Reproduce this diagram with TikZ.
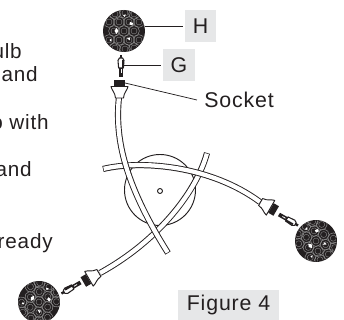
\documentclass[tikz,border=0pt]{standalone}
\usepackage{fontspec}
\setmainfont{Liberation Sans}
\newfontfamily\spaced[LetterSpace=4]{Liberation Sans}
\definecolor{lab}{HTML}{E6E7E8}
\definecolor{ink}{HTML}{231F20}
\tikzset{
 px/.style={x=0.75pt,y=-0.75pt},
 wire/.style={draw=ink,line width=0.7pt,fill=white,line join=round},
 wouter/.style={draw=ink,line width=4.6pt,line cap=butt},
 winner/.style={draw=white,line width=3.2pt,line cap=butt},
 thin line/.style={draw=ink,line width=0.55pt},
 lbl/.style={fill=lab,text=ink,font=\spaced\fontsize{16pt}{18pt}\selectfont,inner sep=0pt,anchor=center},
 txt/.style={text=ink,font=\spaced\fontsize{15.5pt}{18pt}\selectfont,inner sep=0pt,anchor=base east},
 coil/.style={draw=black!45!white,line width=0.4pt},
}
\newcommand{\mybulb}[2]{%
 \begin{scope}[shift={(#1)},rotate=#2]
  \fill[ink] (0,0) circle (21);
  \begin{scope}
  \clip (0,0) circle (20.5);
  \foreach \a/\b in {0/0,-10/0,10/0,-15/-9,-5/-9,5/-9,15/-9,-15/9,-5/9,5/9,15/9,-9/-17,1/-18,10/-17,-9/17,1/18,10/17}{
    \draw[coil] (\a,\b) circle (5.4);
    \draw[coil,line width=0.3pt] (\a,\b) circle (3);
  }
  \end{scope}
  \fill[white] (-7.5,-3) -- (-5.5,0) -- (-7.5,3) -- (-9.5,0) -- cycle;
  \fill[white] (6,-9) -- (9,-8) -- (8.5,-5.5) -- (5.5,-6.5) -- cycle;
  \fill[white] (3,7.5) -- (6,6.5) -- (6,9.5) -- cycle;
  \fill[white] (-1,-16) -- (2,-16.5) -- (0.5,-14) -- cycle;
  \fill[white] (-14,8) -- (-12,9) -- (-14,10.5) -- cycle;
 \end{scope}}
\newcommand{\mypin}[2]{%
 \begin{scope}[shift={(#1)},rotate=#2]
  \fill[ink] (-1.2,-11) rectangle (1.2,-7);
  \draw[wire,line width=0.8pt] (-1.6,-8) -- (-3,-5.5) -- (-2.4,2) -- (2.4,2) -- (3,-5.5) -- (1.6,-8) -- cycle;
  \fill[ink] (0.6,-6) rectangle (2.6,2);
  \fill[ink] (-2,2) rectangle (2,11);
  \fill[white] (-0.4,3.5) rectangle (0.4,7);
 \end{scope}}
\newcommand{\mysock}[2]{%
 \begin{scope}[shift={(#1)},rotate=#2]
  \fill[ink] (-5.5,-6) rectangle (5.5,0);
  \draw[wire] (-8.5,0.5) .. controls (-7.5,5) and (-4.5,6) .. (-4,12) -- (4,12) .. controls (4.5,6) and (7.5,5) .. (8.5,0.5) -- cycle;
 \end{scope}}
\begin{document}
\begin{tikzpicture}[px]
\useasboundingbox (0,0) rectangle (344,320);
\fill[white] (0,0) rectangle (344,320);
\node[txt] (t1) at (22,59) {ulb};
\node[txt] (t2) at (38,82) {and};
\node[txt] (t3) at (49,130) {o with};
\node[txt] (t4) at (32,177) {and};
\node[txt] (t5) at (53,249) {ready};
% base plate
\draw[wire,fill=none] (160,190) circle (35.5);
\draw[wire] (160,191) circle (2.5);
% wire to lower left
\draw[wouter] (207,153) .. controls (197,190) and (160,240) .. (100,273);
\draw[winner,shorten <=0.5pt] (207,153) .. controls (197,190) and (160,240) .. (100,273);
% wire to right
\draw[wouter] (103,169) .. controls (140,160) and (210,165) .. (260,202);
\draw[winner,shorten <=0.5pt] (103,169) .. controls (140,160) and (210,165) .. (260,202);
% wire from top socket
\draw[wouter] (119,97) .. controls (115,135) and (122,180) .. (168,253);
\draw[winner,shorten >=0.5pt] (119,97) .. controls (115,135) and (122,180) .. (168,253);
% sockets and pins
\mysock{119.5,86}{0}
\mypin{121,66}{0}
\mysock{271,208}{-120}
\mypin{288.5,220}{-120}
\mysock{88.5,279}{120}
\mypin{71,288}{120}
% bulbs
\mybulb{124,31}{0}
\mybulb{316,241}{40}
\mybulb{39,302}{-30}
% labels and leaders
\node[lbl,minimum width=23.25pt,minimum height=24pt] (H) at (200.5,26) {H};
\node[lbl,minimum width=24pt,minimum height=24pt] (G) at (179,65) {G};
\node[inner sep=0pt,text=ink,font=\spaced\fontsize{16pt}{18pt}\selectfont,anchor=base west] (S) at (204,108) {Socket};
\node[lbl,minimum width=75.75pt,minimum height=22.5pt] (F) at (228.5,305) {Figure 4};
\coordinate (hb) at (145,26);
\coordinate (hl) at (183,26);
\coordinate (gb) at (124,65);
\coordinate (gl) at (161,65);
\coordinate (sb) at (125,83);
\coordinate (sl) at (197,100);
\draw[thin line] (hb) -- (hl);
\draw[thin line] (gb) -- (gl);
\draw[thin line] (sb) -- (sl);
\end{tikzpicture}
\end{document}
